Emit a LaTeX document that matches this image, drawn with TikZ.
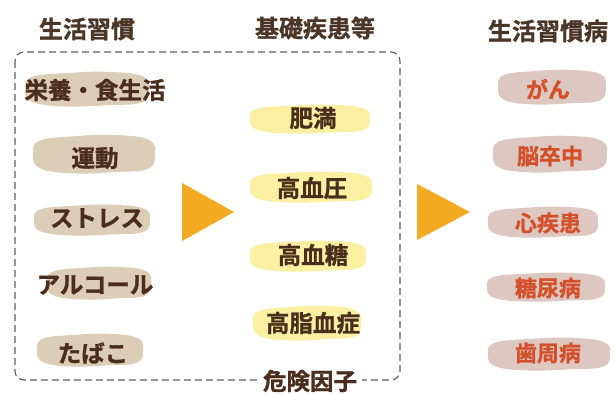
\documentclass[tikz,border=0pt]{standalone}
\usepackage{fontspec}
\newfontfamily\cjk{Noto Sans CJK JP Bold}[FakeBold=1.2]
\definecolor{hdr}{HTML}{4A3526}
\definecolor{brn}{HTML}{4B2D1B}
\definecolor{beige}{HTML}{DCCDB6}
\definecolor{yel}{HTML}{FBEFA2}
\definecolor{pnk}{HTML}{DCC8C0}
\definecolor{rtxt}{HTML}{D4502A}
\definecolor{org}{HTML}{F2AA22}
\definecolor{dashc}{HTML}{5E5E5E}
\newcommand\myblob[5]{\fill[#5,shift={(#1,#2)},xscale=#3,yscale=#4] plot[smooth cycle,tension=0.7] coordinates {(-1,0.05) (-0.88,0.72) (-0.35,0.97) (0.35,0.9) (0.88,0.75) (1,0.05) (0.9,-0.7) (0.35,-0.95) (-0.35,-0.88) (-0.9,-0.65)};}
\tikzset{
  hd/.style={font=\cjk\fontsize{24}{24}\selectfont, text=hdr, inner sep=1pt},
  lt/.style={font=\cjk\fontsize{23.5}{24}\selectfont, text=brn, inner sep=1pt},
  mt/.style={font=\cjk\fontsize{23.5}{24}\selectfont, text=brn, inner sep=1pt},
  rt/.style={font=\cjk\fontsize{22}{22}\selectfont, text=rtxt, inner sep=1pt},
  tri/.style={fill=org},
}
\begin{document}
\begin{tikzpicture}[x=1pt,y=-1pt]
\useasboundingbox[fill=white] (0,0) rectangle (615,395);
% dashed frame
\draw[dashc, line width=1.1pt, dash pattern=on 7pt off 4pt, rounded corners=9pt] (15,52) rectangle (400,380);
% headers
\node[hd] (h1) at (87,29) {生活習慣};
\node[hd] (h2) at (315,28) {基礎疾患等};
\node[hd] (h3) at (548,31) {生活習慣病};
% left blobs
\myblob{87}{89}{62}{18}{beige}
\myblob{94}{154}{61}{20}{beige}
\myblob{92}{220}{58}{16}{beige}
\myblob{99}{283}{52}{17}{beige}
\myblob{90}{350}{53}{17}{beige}
% middle blobs
\myblob{310}{119}{60}{15}{yel}
\myblob{311}{187}{61}{16}{yel}
\myblob{308}{256}{58}{16}{yel}
\myblob{307}{323}{54}{18}{yel}
% right blobs
\myblob{552}{87}{54}{18}{pnk}
\myblob{550}{154}{57}{19}{pnk}
\myblob{543}{222}{55}{16}{pnk}
\myblob{546}{287}{59}{15}{pnk}
\myblob{549}{354}{61}{17}{pnk}
% left texts
\node[lt] (a1) at (95,90) {栄養・食生活};
\node[lt] (a2) at (95,158) {運動};
\node[lt] (a3) at (97,218) {ストレス};
\node[lt] (a4) at (95,285) {アルコール};
\node[lt] (a5) at (93,353) {たばこ};
% middle texts
\node[mt] (b1) at (313,118) {肥満};
\node[mt] (b2) at (312,188) {高血圧};
\node[mt] (b3) at (313,255) {高血糖};
\node[mt] (b4) at (313,323) {高脂血症};
\node[mt, fill=white, inner xsep=5pt] (b5) at (310,381) {危険因子};
% right texts
\node[rt] (c1) at (548,89) {がん};
\node[rt] (c2) at (550,156) {脳卒中};
\node[rt] (c3) at (548,223) {心疾患};
\node[rt] (c4) at (548,288) {糖尿病};
\node[rt] (c5) at (548,353) {歯周病};
% arrows
\fill[tri] (182,183) -- (234,212) -- (182,241) -- cycle;
\fill[tri] (417,184) -- (470,212) -- (417,240) -- cycle;
\end{tikzpicture}
\end{document}
